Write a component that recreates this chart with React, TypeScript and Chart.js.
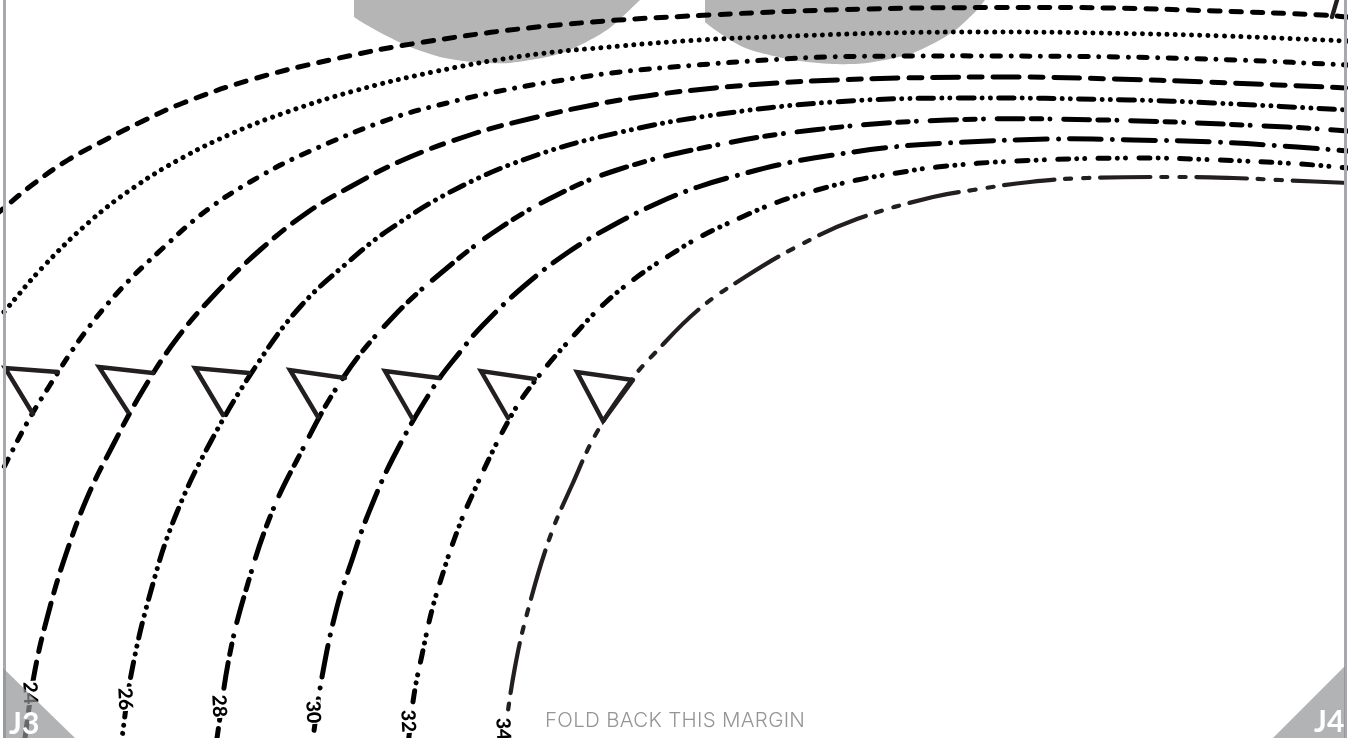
import React, { useEffect, useRef } from "react";
import { Chart, registerables } from "chart.js";

Chart.register(...registerables);

type Pt = [number, number];

const size18: Pt[] = [[-2,213],[32,185],[68,160],[107,139],[143,121],[183,103],[250,80],[330,60],[424,42],[558,25],[709,15],[866,9],[1000,7.5],[1110,8],[1217,11],[1322,15],[1348,17]];
const size20: Pt[] = [[4,312],[42,268],[88,223],[133,188],[182,158],[233,133],[287,112],[354,91],[433,72],[523,56],[620,46],[700,40],[767,37],[887,33],[993,32],[1100,33],[1223,36],[1348,41]];
const size22: Pt[] = [[0,475],[27,423],[50,385],[83,335],[120,290],[163,248],[207,210],[257,178],[308,152],[390,119],[447,103],[505,90],[563,80],[620,72],[697,65],[767,60],[827,57],[913,56],[1000,56],[1120,57],[1237,60],[1348,65]];
const size24: Pt[] = [[24,745],[35,670],[50,607],[65,557],[87,498],[112,447],[143,390],[178,337],[217,292],[260,250],[308,212],[350,187],[403,160],[473,134],[533,118],[593,105],[653,95],[715,88],[777,83],[837,80],[900,78],[1020,77],[1113,79],[1207,82],[1348,88]];
const size26: Pt[] = [[121,745],[132,670],[152,587],[175,517],[210,443],[258,363],[300,307],[347,263],[390,229],[460,187],[537,155],[617,133],[707,116],[833,102],[960,98],[1130,100],[1213,103],[1348,110]];
const size28: Pt[] = [[216,745],[230,653],[248,583],[270,517],[297,460],[343,378],[393,317],[447,268],[500,228],[557,195],[617,170],[707,147],[813,130],[947,120],[1103,120],[1287,127],[1348,131]];
const size30: Pt[] = [[312,745],[322,677],[337,607],[353,557],[367,517],[393,458],[433,388],[460,352],[483,325],[523,287],[567,253],[610,227],[660,202],[698,187],[735,176],[787,163],[840,154],[893,147],[947,143],[1053,139],[1133,140],[1215,142],[1297,147],[1348,151]];
const size32: Pt[] = [[408,745],[414,695],[422,655],[432,610],[443,573],[454,540],[470,500],[510,418],[538,377],[577,332],[605,303],[637,277],[670,255],[700,237],[742,217],[778,202],[817,190],[857,180],[897,173],[937,167],[1017,161],[1137,158],[1218,160],[1300,164],[1348,168]];
const size34: Pt[] = [[503,745],[515,667],[528,610],[550,537],[572,485],[597,432],[633,378],[653,355],[698,310],[745,277],[800,245],[857,219],[933,197],[973,190],[1030,182],[1087,178],[1183,177],[1233,178],[1280,180],[1348,183]];

const blobLeft: Pt[] = [[354,0],[349,13],[401,43],[440,57],[473,62],[509,63],[562,53],[607,30],[640,0]];
const blobRight: Pt[] = [[705,0],[700,17],[743,47],[793,60],[833,64],[867,63],[913,53],[953,32],[977,10],[985,0]];

const notches: Pt[][] = [
  [[58,372],[5,368],[33,414]],
  [[153,373],[99,367],[128,412]],
  [[249,373],[195,368],[223,415]],
  [[345,378],[290,370],[318,417]],
  [[439,378],[385,371],[412,418]],
  [[535,379],[481,371],[508,418]],
  [[633,380],[577,372],[603,421],[633,380]],
];

const cornerLeft: Pt[] = [[3,668],[75,738]];
const cornerRight: Pt[] = [[1273,738],[1345,666]];
const edgeLeft: Pt[] = [[4.5,0],[4.5,738]];
const edgeRight: Pt[] = [[1345.5,0],[1345.5,738]];
const cornerStub: Pt[] = [[1332,17],[1337,0]];

const sizeLabels = ["24", "26", "28", "30", "32", "34"];
const sizeLabelX = [30, 125, 219, 313, 408, 503];
const sizeLabelY = [693, 699, 706, 712, 721, 729];
const cornerTexts = ["J3", "J4"];
const foldText = "FOLD BACK THIS MARGIN";

const INK = "#000000";
const DARK = "#231f20";

function toData(p: Pt[]) {
  return p.map(([x, y]) => ({ x, y }));
}

function curve(p: Pt[], dash: number[], offset = 0, width = 5, color = INK) {
  return {
    data: toData(p),
    showLine: true,
    borderColor: color,
    borderWidth: width,
    borderDash: dash,
    borderDashOffset: offset,
    borderCapStyle: "round",
    borderJoinStyle: "round",
    tension: 0.4,
    pointRadius: 0,
    fill: false,
    order: 20,
  };
}

function plain(p: Pt[], color: string, width: number, order: number) {
  return {
    data: toData(p),
    showLine: true,
    borderColor: color,
    borderWidth: width,
    borderCapStyle: "round",
    borderJoinStyle: "miter",
    tension: 0,
    pointRadius: 0,
    fill: false,
    order,
  };
}

function area(p: Pt[], color: string, base: number, order: number, tension: number) {
  return {
    data: toData(p),
    showLine: true,
    borderWidth: 0,
    borderColor: "transparent",
    backgroundColor: color,
    tension,
    pointRadius: 0,
    fill: { value: base },
    order,
  };
}

const ANCHOR_INDEX = 0;

const textPlugin = {
  id: "patternText",
  afterDatasetDraw(chart: any, args: any) {
    if (args.index !== ANCHOR_INDEX) return;
    const { ctx, scales } = chart;
    ctx.save();
    ctx.font = "900 19.5px Lato";
    ctx.textAlign = "center";
    ctx.textBaseline = "middle";
    sizeLabels.forEach((t, i) => {
      ctx.save();
      ctx.translate(scales.x.getPixelForValue(sizeLabelX[i]), scales.y.getPixelForValue(sizeLabelY[i]));
      ctx.rotate(Math.PI / 2 - 0.05);
      ctx.fillStyle = "#ffffff";
      ctx.fillRect(-12, -8, 24, 16);
      ctx.fillStyle = INK;
      ctx.fillText(t, 0, 0);
      ctx.restore();
    });
    ctx.restore();
  },
  afterDraw(chart: any) {
    const { ctx, scales } = chart;
    ctx.save();
    ctx.textBaseline = "alphabetic";
    ctx.textAlign = "left";
    ctx.fillStyle = "#ffffff";
    ctx.font = "700 30px Lato";
    ctx.fillText(cornerTexts[0], scales.x.getPixelForValue(9), scales.y.getPixelForValue(734));
    ctx.fillText(cornerTexts[1], scales.x.getPixelForValue(1314), scales.y.getPixelForValue(732));
    ctx.fillStyle = "#939598";
    ctx.font = "300 20.5px Inter";
    ctx.letterSpacing = "0.3px";
    ctx.fillText(foldText, scales.x.getPixelForValue(545), scales.y.getPixelForValue(727));
    ctx.restore();
  },
};

export default function App() {
  const ref = useRef<HTMLCanvasElement | null>(null);
  useEffect(() => {
    if (!ref.current) return;
    const chart = new Chart(ref.current, {
      type: "scatter",
      data: {
        datasets: [
          { data: [], order: 12, pointRadius: 0 },
          area(blobLeft, "#b5b5b5", 0, 30, 0.25),
          area(blobRight, "#b5b5b5", 0, 30, 0.25),
          curve(size18, [10.3, 11], 4),
          curve(size20, [0.01, 8.2]),
          curve(size22, [8.3, 10.5, 0.01, 10.5], 19.9),
          curve(size24, [26, 10.8, 13, 10.8], 2.8),
          curve(size26, [15.5, 8.2, 0.01, 8.2, 0.01, 8.2], 12),
          curve(size28, [26, 8.3, 10.5, 8.3, 0.01, 13.7], 9.4),
          curve(size30, [32, 11, 0.01, 11], 39.3),
          curve(size32, [11, 8.2, 0.01, 8.2, 0.01, 13.3], 38),
          curve(size34, [50.5, 10.8, 6, 12.2, 6, 10.8], 43.6, 4.2, DARK),
          ...notches.map((n) => plain(n, DARK, 4.4, 15)),
          plain(cornerStub, DARK, 4.4, 15),
          plain(edgeLeft, "#a7a9ac", 3, 14),
          plain(edgeRight, "#a7a9ac", 3, 14),
          area(cornerLeft, "rgba(145,147,150,0.7)", 738, 10, 0),
          area(cornerRight, "rgba(145,147,150,0.7)", 738, 10, 0),
        ] as any,
      },
      options: {
        responsive: false,
        animation: false,
        events: [],
        layout: { padding: 0 },
        plugins: { legend: { display: false }, tooltip: { enabled: false }, title: { display: false } },
        scales: {
          x: { type: "linear", min: 0, max: 1348, display: false },
          y: { type: "linear", min: 0, max: 738, reverse: true, display: false },
        },
      } as any,
      plugins: [textPlugin as any],
    });
    return () => chart.destroy();
  }, []);
  return (
    <canvas
      ref={ref}
      width={1348}
      height={738}
      style={{ position: "fixed", left: 0, top: 0, width: 1348, height: 738, background: "#ffffff" }}
    />
  );
}
